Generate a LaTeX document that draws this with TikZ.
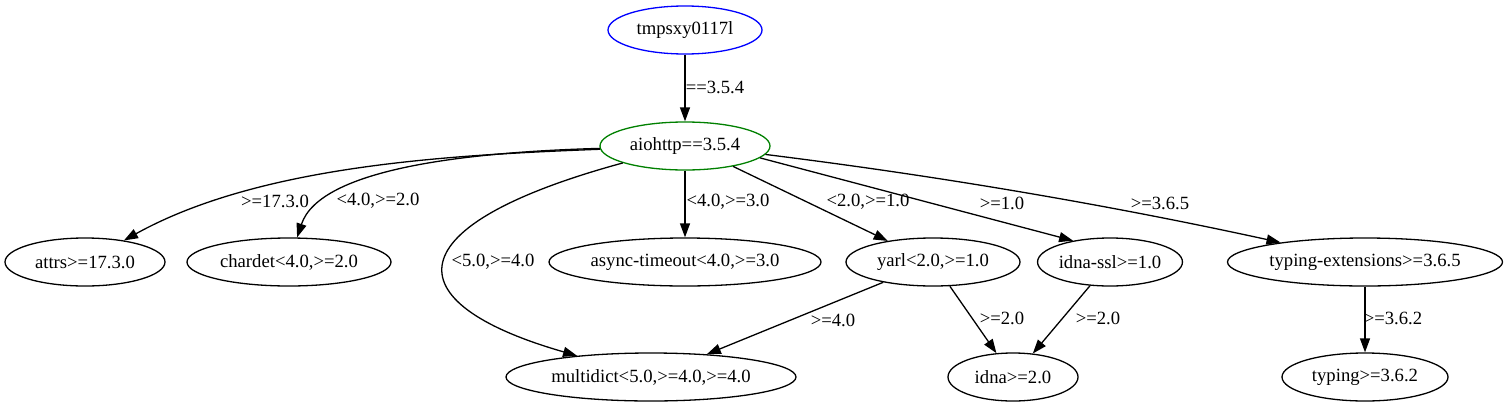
\documentclass[tikz,border=0pt]{standalone}
\usepackage{fontspec}
\setmainfont{Liberation Serif}
\usetikzlibrary{shapes, arrows.meta, positioning}

\begin{document}
\begin{tikzpicture}[x=1pt, y=-1pt, >={Triangle[length=14pt, width=10pt]}, line width=1.3pt, font=\fontsize{18.67}{22}\selectfont]
	\tikzstyle{pkg} = [draw, ellipse, minimum height=48pt, inner sep=0pt]
	\tikzstyle{lbl} = [inner sep=0pt]
	\useasboundingbox (0,0) rectangle (1506,407);

	% packages
	\node[pkg, draw=blue, minimum width=154pt] (tmp) at (685,30) {tmpsxy0117l};
	\node[pkg, draw=green!50!black, minimum width=170pt] (aio) at (685,146) {aiohttp==3.5.4};

	\node[pkg, minimum width=160pt] (attrs) at (85,262) {attrs>=17.3.0};
	\node[pkg, minimum width=204pt] (chardet) at (289,262) {chardet<4.0,>=2.0};
	\node[pkg, minimum width=272pt] (async) at (685,262) {async-timeout<4.0,>=3.0};
	\node[pkg, minimum width=174pt] (yarl) at (933,262) {yarl<2.0,>=1.0};
	\node[pkg, minimum width=129pt] (idnassl) at (1110,262) {idna-ssl>=1.0};
	\node[pkg, minimum width=275pt] (tpext) at (1365,262) {typing-extensions>=3.6.5};

	\node[pkg, minimum width=290pt] (multidict) at (651,377) {multidict<5.0,>=4.0,>=4.0};
	\node[pkg, minimum width=130pt] (idna) at (1013,377) {idna>=2.0};
	\node[pkg, minimum width=166pt] (typing) at (1365,377) {typing>=3.6.2};

	% dependencies
	\path[->]
		(tmp) edge (aio)
		(aio) edge (async)
		(aio.337) edge (yarl.155)
		(aio.351) edge (idnassl.150)
		(yarl) edge (multidict)
		(yarl) edge (idna)
		(idnassl) edge (idna)
		(tpext) edge (typing)
	;
	\draw[->] (aio.354) .. controls (939,176) and (1109,205) .. (tpext.167);
	\draw[->] (aio) .. controls (450,155) and (260,165) .. (attrs);
	\draw[->] (aio) .. controls (470,152) and (320,168) .. (chardet);
	\draw[->] (aio) .. controls (395,225) and (390,302) .. (multidict);

	% version constraints
	\node[lbl] (v0) at (715,87) {==3.5.4};
	\node[lbl] (v1) at (275,201) {>=17.3.0};
	\node[lbl] (v2) at (378,201) {<4.0,>=2.0};
	\node[lbl] (v3) at (493,262) {<5.0,>=4.0};
	\node[lbl] (v4) at (728,202) {<4.0,>=3.0};
	\node[lbl] (v5) at (868,202) {<2.0,>=1.0};
	\node[lbl] (v6) at (1002,203) {>=1.0};
	\node[lbl] (v7) at (1160,203) {>=3.6.5};
	\node[lbl] (v8) at (833,320) {>=4.0};
	\node[lbl] (v9) at (1002,318) {>=2.0};
	\node[lbl] (v10) at (1098,318) {>=2.0};
	\node[lbl] (v11) at (1393,318) {>=3.6.2};
\end{tikzpicture}
\end{document}
